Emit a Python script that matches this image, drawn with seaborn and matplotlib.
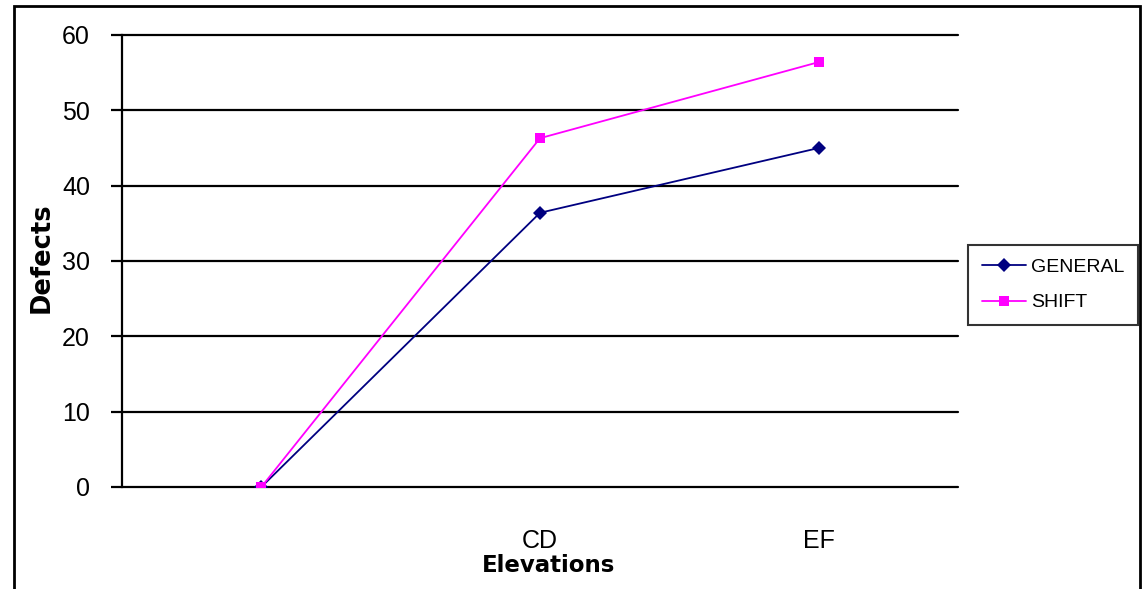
import numpy as np
import pandas as pd
import matplotlib
matplotlib.use("Agg")
import matplotlib.pyplot as plt
import seaborn as sns
from matplotlib.patches import Rectangle

categories = ["", "CD", "EF"]
general = [0, 36.4, 45.0]
shift = [0, 46.3, 56.4]
series_names = ["GENERAL", "SHIFT"]
y_ticks = [0, 10, 20, 30, 40, 50, 60]

df = pd.DataFrame({
    "Elevations": categories * 2,
    "Defects": general + shift,
    "Series": [series_names[0]] * 3 + [series_names[1]] * 3,
})
df["pos"] = list(range(len(categories))) * 2

sns.set_theme(style="white")
plt.rcParams['font.family'] = ['Liberation Sans', 'DejaVu Sans']

W, H = 1143, 589
fig = plt.figure(figsize=(W / 100, H / 100), dpi=100)
ax = fig.add_axes([122 / W, 1 - 487 / H, (958 - 122) / W, (487 - 35) / H])

sns.lineplot(
    data=df, x="pos", y="Defects", hue="Series", style="Series",
    palette={"GENERAL": "#000080", "SHIFT": "#FF00FF"},
    markers={"GENERAL": "D", "SHIFT": "s"}, dashes=False,
    markersize=7, linewidth=1.3, markeredgewidth=0, ax=ax, zorder=3,
)

ax.set_xlim(-0.5, len(categories) - 0.5)
ax.set_ylim(0, 60)
ax.set_yticks(y_ticks)
ax.set_xticks(range(len(categories)))
ax.set_xticklabels(categories)
for y in y_ticks:
    ax.axhline(y, color="black", lw=1.6, zorder=0, clip_on=False)

for s in ["top", "right", "bottom"]:
    ax.spines[s].set_visible(False)
ax.spines["left"].set_color("black")
ax.spines["left"].set_linewidth(1.6)

ax.tick_params(axis="y", length=8, width=1.6, color="black", pad=15,
               labelsize=18, left=True, direction="out")
ax.tick_params(axis="x", length=0, pad=30, labelsize=18)
for lbl in ax.get_xticklabels() + ax.get_yticklabels():
    lbl.set_color("black")

ax.set_xlabel("")
ax.set_ylabel("")
fig.text(549 / W, 1 - 565 / H, "Elevations", ha="center", va="center",
         fontsize=16.5, fontweight="bold", family="DejaVu Sans", color="black")
fig.text(42 / W, 1 - 258 / H, "Defects", ha="center", va="center", rotation=90,
         fontsize=18.5, fontweight="bold", family="DejaVu Sans", color="black")

ax.get_legend().remove()
handles, labels = ax.get_legend_handles_labels()
leg = fig.legend(handles, labels, loc="upper left",
                 bbox_to_anchor=(968 / W, 1 - 245 / H), bbox_transform=fig.transFigure,
                 borderaxespad=0, frameon=True, fancybox=False, fontsize=14,
                 handlelength=2.3, borderpad=0.7, labelspacing=0.9, handletextpad=0.25)
leg.get_frame().set_edgecolor("black")
leg.get_frame().set_linewidth(1.5)
for t in leg.get_texts():
    t.set_color("black")

fig.patches.append(Rectangle((14 / W, -0.05), (1140 - 14) / W, 1 - 6 / H + 0.05,
                             transform=fig.transFigure, fill=False,
                             edgecolor="black", linewidth=2))

fig.savefig("out.png", dpi=100)
